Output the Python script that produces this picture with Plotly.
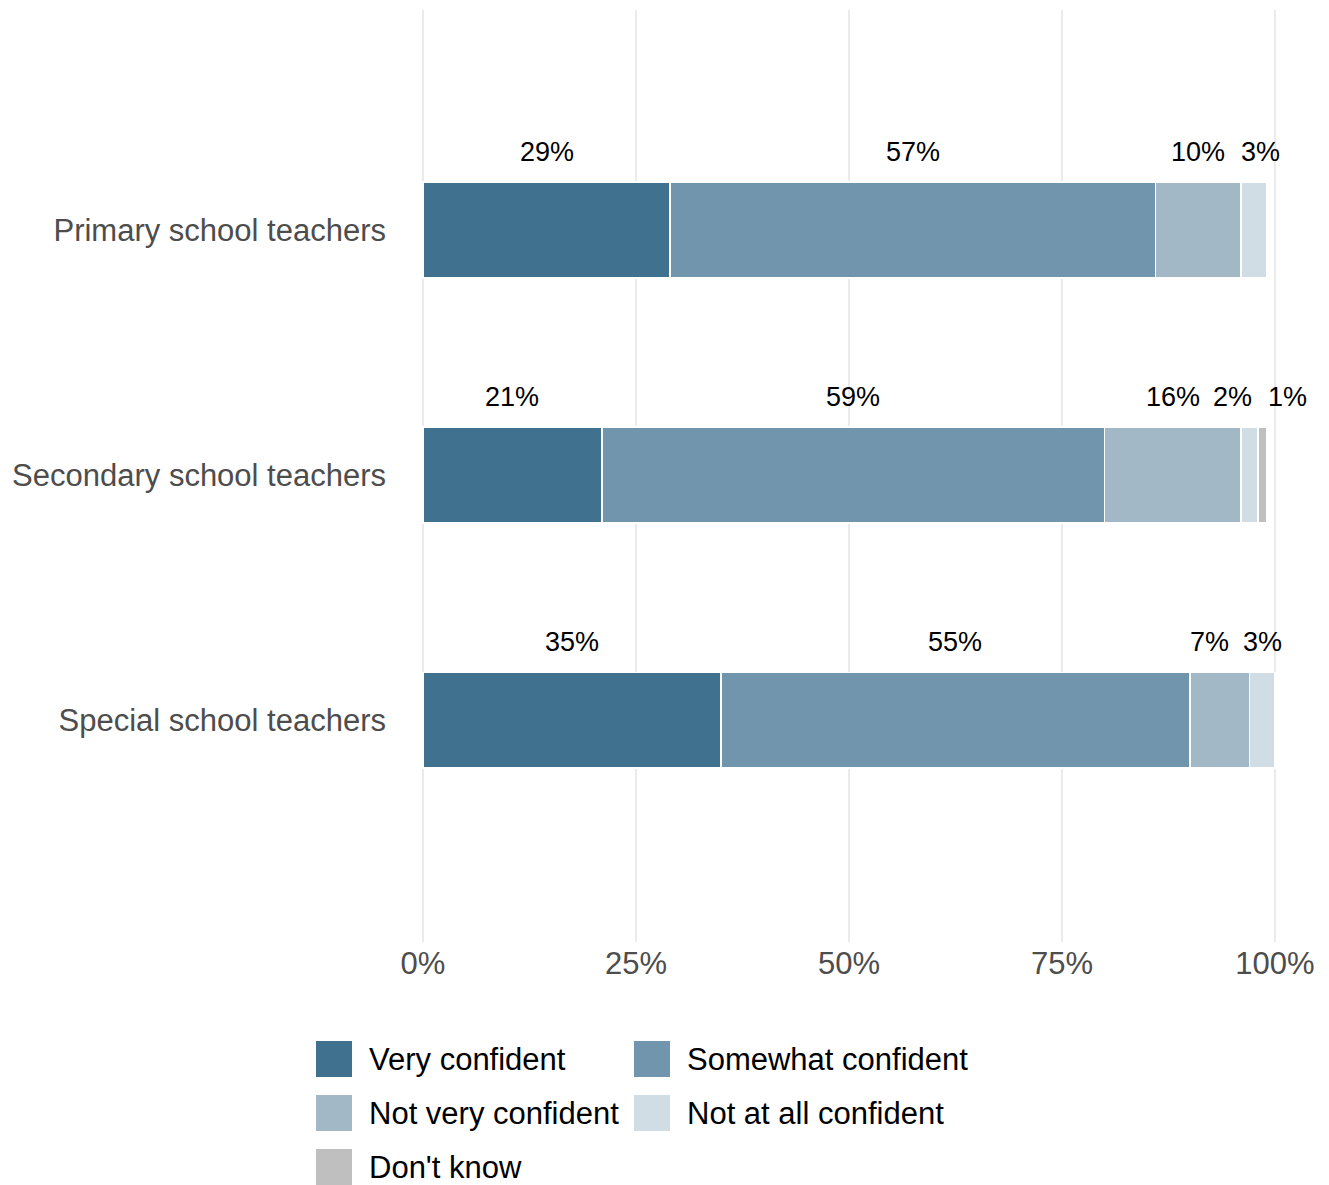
import plotly.graph_objects as go

# Survey results: teacher confidence, share of respondents (%)
groups = ["Primary school teachers", "Secondary school teachers", "Special school teachers"]
responses = ["Very confident", "Somewhat confident", "Not very confident",
             "Not at all confident", "Don't know"]
very_confident = [29, 21, 35]
somewhat_confident = [57, 59, 55]
not_very_confident = [10, 16, 7]
not_at_all_confident = [3, 2, 3]
dont_know = [None, 1, None]
x_tick_values = [0, 25, 50, 75, 100]
x_tick_labels = ["0%", "25%", "50%", "75%", "100%"]

series = [very_confident, somewhat_confident, not_very_confident,
          not_at_all_confident, dont_know]
colors = ["#40728f", "#7195ac", "#a2b8c7", "#d0dde5", "#bfbfbf"]

FONT = "Liberation Sans, Arial, sans-serif"
W, H = 1329, 1185
M_L, M_R, M_T, M_B = 422, 53, 10, 243
PLOT_W = W - M_L - M_R
PLOT_H = H - M_T - M_B
X_PAD = 0.12  # tiny range padding so the 0% and 100% grid lines stay visible

fig = go.Figure()
for name, vals, col in zip(responses, series, colors):
    fig.add_trace(go.Bar(
        y=groups, x=[v if v is not None else 0 for v in vals],
        name=name, orientation="h", width=0.39,
        marker=dict(color=col, line=dict(color="white", width=1.5)),
        showlegend=False, hoverinfo="x+y+name",
    ))

# Percentage labels above each segment (small horizontal nudges keep
# neighbouring labels apart, pixels)
label_nudge = {(0, 3): 7, (1, 3): -17, (1, 4): 25, (2, 2): -10}
annotations = []
for gi, g in enumerate(groups):
    start = 0
    for si, vals in enumerate(series):
        v = vals[gi]
        if v is None:
            continue
        annotations.append(dict(
            x=start + v / 2, y=g, xref="x", yref="y",
            text=f"{v}%", showarrow=False,
            yshift=78, xshift=label_nudge.get((gi, si), 0),
            font=dict(family=FONT, size=27, color="black"),
        ))
        start += v

# Legend drawn as a two-column key grid below the panel
def px_x(px):
    return (px - M_L) / PLOT_W

def px_y(py):
    return (H - M_B - py) / PLOT_H

shapes = []
key_cols = [316, 634]
key_rows = [1059, 1113, 1167]
key_size = 36
for i, (name, col) in enumerate(zip(responses, colors)):
    cx = key_cols[i % 2]
    cy = key_rows[i // 2]
    shapes.append(dict(
        type="rect", xref="paper", yref="paper",
        x0=px_x(cx), x1=px_x(cx + key_size),
        y0=px_y(cy + key_size / 2), y1=px_y(cy - key_size / 2),
        fillcolor=col, line=dict(width=0), layer="above",
    ))
    annotations.append(dict(
        x=px_x(cx + key_size + 15), y=px_y(cy), xref="paper", yref="paper",
        xanchor="left", yanchor="middle", text=name, showarrow=False,
        font=dict(family=FONT, size=31, color="black"),
    ))

fig.update_layout(
    width=W, height=H,
    margin=dict(l=M_L, r=M_R, t=M_T, b=M_B),
    barmode="stack",
    paper_bgcolor="white", plot_bgcolor="white",
    font=dict(family=FONT),
    annotations=annotations, shapes=shapes,
    showlegend=False,
    xaxis=dict(
        range=[-X_PAD, 100 + X_PAD], tickvals=x_tick_values, ticktext=x_tick_labels,
        showgrid=True, gridcolor="#ebebeb", gridwidth=1.5,
        zeroline=False, showline=False, ticks="",
        tickfont=dict(family=FONT, size=31, color="#4d4d4d"),
        ticklabelstandoff=0, fixedrange=True,
    ),
    yaxis=dict(
        type="category", categoryorder="array", categoryarray=groups,
        range=[2.906, -0.898],
        showgrid=False, zeroline=False, showline=False, ticks="",
        tickfont=dict(family=FONT, size=31, color="#4d4d4d"),
        ticklabelstandoff=35, fixedrange=True,
    ),
)

fig.write_html("out.html")
